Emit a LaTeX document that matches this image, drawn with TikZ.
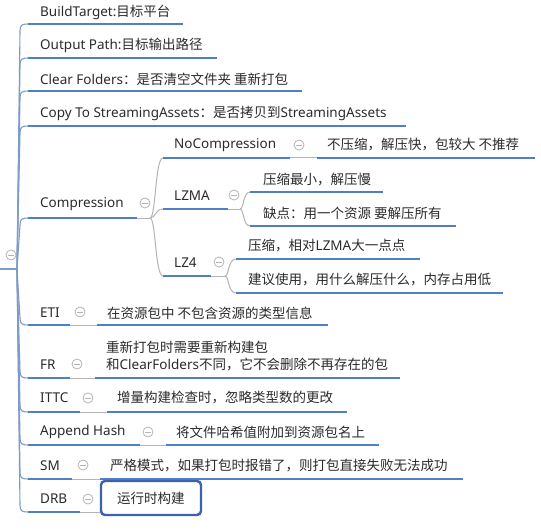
\documentclass[tikz,border=0pt]{standalone}
\usepackage{fontspec}
\setmainfont{Noto Sans}
\newfontfamily\cjk{Noto Sans CJK SC}
\newcommand\zh[1]{{\cjk #1}}
\definecolor{textc}{HTML}{2B2B2B}
\definecolor{lineblue}{HTML}{4F80C6}
\definecolor{trunkc}{HTML}{7F9CC8}
\definecolor{grayc}{HTML}{B4B4B4}
\definecolor{boxc}{HTML}{3A62AE}
\tikzset{
 txt/.style={anchor=west, inner sep=0pt, text=textc, font=\fontsize{13.5}{17}\selectfont, align=left},
 uline/.style={draw=lineblue, line width=2.6pt},
 trunk/.style={draw=trunkc, line width=1.1pt},
 conn/.style={draw=grayc, line width=1pt},
 collapse/.style={circle, draw=grayc, line width=0.8pt, minimum size=10pt, inner sep=0pt,
   path picture={\draw[grayc, line width=0.8pt] ([xshift=-2.6pt]path picture bounding box.center) -- ([xshift=2.6pt]path picture bounding box.center);}},
 drbbox/.style={draw=boxc, line width=2.4pt, rounded corners=4pt, minimum width=100pt, minimum height=34pt, inner sep=0pt}
}
\begin{document}
\begin{tikzpicture}[x=1pt,y=-1pt]
\fill[white] (0,0) rectangle (541,532);
\useasboundingbox (0,0) rectangle (541,532);
% root
\coordinate (R) at (0,269);
\coordinate (T) at (17,269);
\node[collapse] (rootc) at (11,255) {};
\draw[trunk] (R) -- (T);
% ---------- level 1 topics
\foreach \n/\y/\e in {bt/24/183, op/58/217, cf/91/302, cp/126/406, co/218/137, eti/325/70, fr/378/70, ittc/412/80, ah/445/140, sm/479/72, drb/512/80}{
  \coordinate (\n s) at (28,\y);
  \coordinate (\n e) at (\e,\y);
}
% trunk branches
\foreach \n/\y in {bt/24, op/58, cf/91, cp/126, co/218}{
  \draw[trunk] (T) -- (20,\y+7) .. controls (20,\y+1) and (22,\y) .. (\n s);
}
\foreach \n/\y in {eti/325, fr/378, ittc/412, ah/445, sm/479, drb/512}{
  \draw[trunk] (T) -- (20,\y-7) .. controls (20,\y-1) and (22,\y) .. (\n s);
}
\foreach \n in {bt, op, cf, cp, co, eti, fr, ittc, ah, sm, drb}{
  \draw[uline] (\n s) -- (\n e);
}
\node[txt] (bt) at (40,12) {BuildTarget:\zh{目标平台}};
\node[txt] (op) at (40,45) {Output Path:\zh{目标输出路径}};
\node[txt] (cf) at (40,79) {Clear Folders\zh{：是否清空文件夹 重新打包}};
\node[txt] (cp) at (40,113) {Copy To StreamingAssets\zh{：是否拷贝到}StreamingAssets};
\node[txt] (co) at (40,204) {Compression};
\node[collapse] (coc) at (145,203) {};
\node[txt] (eti) at (40,313) {ETI};
\node[collapse] (etic) at (80,312) {};
\node[txt] (fr) at (40,365) {FR};
\node[collapse] (frc) at (77,364) {};
\node[txt] (ittc) at (40,398) {ITTC};
\node[collapse] (ittcc) at (88,398) {};
\node[txt] (ah) at (40,432) {Append Hash};
\node[collapse] (ahc) at (148,432) {};
\node[txt] (sm) at (40,466) {SM};
\node[collapse] (smc) at (83,465) {};
\node[txt] (drb) at (40,499) {DRB};
\node[collapse] (drbc) at (88,499) {};
% ---------- children of level-1 leaves
\foreach \n/\y/\s/\e in {eti/325/97/328, fr/378/95/400, ittc/412/107/347, ah/445/166/379, sm/479/100/463}{
  \coordinate (\n ks) at (\s,\y);
  \coordinate (\n ke) at (\e,\y);
  \draw[conn] (\n e) -- (\n ks);
  \draw[uline] (\n ks) -- (\n ke);
}
\node[txt] (etik) at (107,313) {\zh{在资源包中 不包含资源的类型信息}};
\node[txt] (frk) at (106,356.5) {\zh{重新打包时需要重新构建包}\\\zh{和}ClearFolders\zh{不同，它不会删除不再存在的包}};
\node[txt] (ittck) at (117,398) {\zh{增量构建检查时，忽略类型数的更改}};
\node[txt] (ahk) at (176,432) {\zh{将文件哈希值附加到资源包名上}};
\node[txt] (smk) at (110,466) {\zh{严格模式，如果打包时报错了，则打包直接失败无法成功}};
\node[drbbox] (drbk) at (151,498) {};
\node[txt] (drbt) at (117,498) {\zh{运行时构建}};
\draw[conn] (drbe) -- (drbk.west |- drbe);
% ---------- Compression subtree
\coordinate (cosplit) at (150,218);
\draw[conn] (coe) -- (cosplit);
\foreach \n/\y/\e in {nc/158/290, lzma/209/228, lz4/276/211}{
  \coordinate (\n s) at (163,\y);
  \coordinate (\n e) at (\e,\y);
  \draw[conn] (cosplit) .. controls (156,218) and (155,\y) .. (\n s);
  \draw[uline] (\n s) -- (\n e);
}
\node[txt] (nc) at (174,145) {NoCompression};
\node[collapse] (ncc) at (299,145) {};
\node[txt] (lzma) at (174,196) {LZMA};
\node[collapse] (lzmac) at (234,195) {};
\node[txt] (lz4) at (174,263) {LZ4};
\node[collapse] (lz4c) at (219,262) {};
% NoCompression child
\coordinate (ncks) at (317,158);
\coordinate (ncke) at (535,158);
\draw[conn] (nce) -- (ncks);
\draw[uline] (ncks) -- (ncke);
\node[txt] (nck) at (327,145) {\zh{不压缩，解压快，包较大 不推荐}};
% LZMA children
\coordinate (lzsplit) at (240,209);
\draw[conn] (lzmae) -- (lzsplit);
\coordinate (lzaS) at (250,192); \coordinate (lzaE) at (383,192);
\coordinate (lzbS) at (250,226); \coordinate (lzbE) at (456,226);
\draw[conn] (lzsplit) .. controls (244,209) and (243,192) .. (lzaS);
\draw[conn] (lzsplit) .. controls (244,209) and (243,226) .. (lzbS);
\draw[uline] (lzaS) -- (lzaE);
\draw[uline] (lzbS) -- (lzbE);
\node[txt] (lza) at (263,180) {\zh{压缩最小，解压慢}};
\node[txt] (lzb) at (263,213) {\zh{缺点：用一个资源 要解压所有}};
% LZ4 children
\coordinate (l4split) at (225,276);
\draw[conn] (lz4e) -- (l4split);
\coordinate (l4aS) at (236,259); \coordinate (l4aE) at (420,259);
\coordinate (l4bS) at (236,293); \coordinate (l4bE) at (503,293);
\draw[conn] (l4split) .. controls (229,276) and (228,259) .. (l4aS);
\draw[conn] (l4split) .. controls (229,276) and (228,293) .. (l4bS);
\draw[uline] (l4aS) -- (l4aE);
\draw[uline] (l4bS) -- (l4bE);
\node[txt] (l4a) at (248,246) {\zh{压缩，相对}LZMA\zh{大一点点}};
\node[txt] (l4b) at (248,280) {\zh{建议使用，用什么解压什么，内存占用低}};
\end{tikzpicture}
\end{document}
